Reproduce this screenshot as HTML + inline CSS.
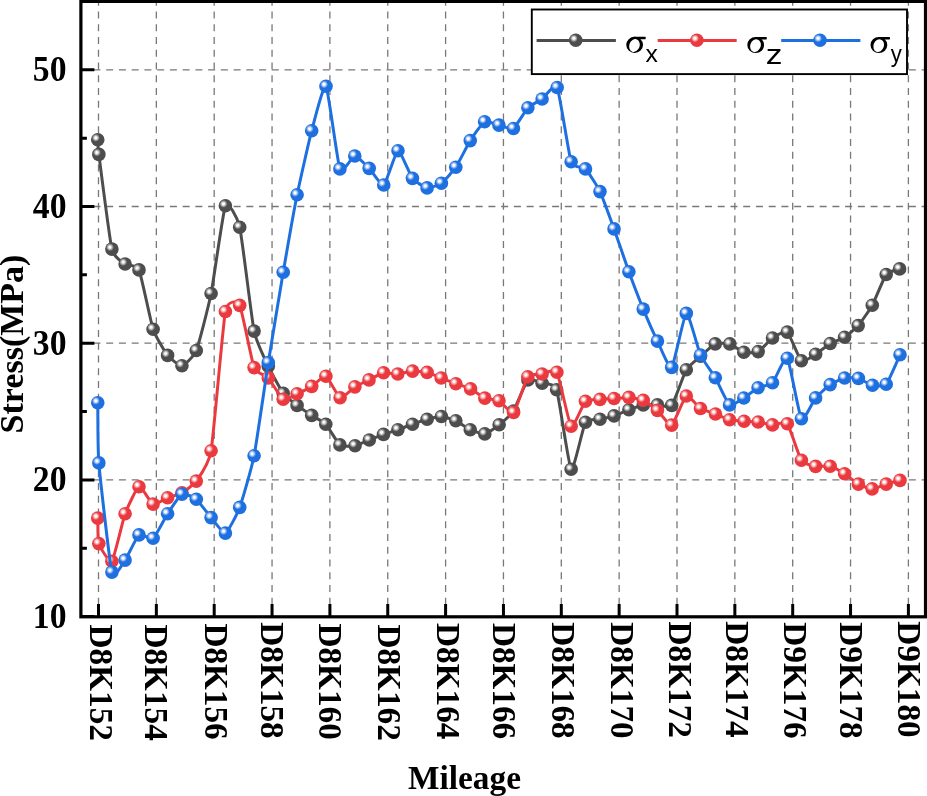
<!DOCTYPE html>
<html><head><meta charset="utf-8"><style>
html,body{margin:0;padding:0;background:#fff;}
body{width:927px;height:796px;overflow:hidden;font-family:"Liberation Serif",serif;}
svg{display:block;will-change:transform;}
</style></head><body>
<svg width="927" height="796" viewBox="0 0 927 796">
<defs>
<radialGradient id="gk" cx="0.36" cy="0.36" r="0.62" fx="0.36" fy="0.36"><stop offset="0" stop-color="#fff"/><stop offset="0.12" stop-color="#fff" stop-opacity="0.93"/><stop offset="0.46" stop-color="#4d4d4d"/><stop offset="1" stop-color="#4d4d4d"/></radialGradient>
<radialGradient id="gr" cx="0.36" cy="0.36" r="0.62" fx="0.36" fy="0.36"><stop offset="0" stop-color="#fff"/><stop offset="0.12" stop-color="#fff" stop-opacity="0.93"/><stop offset="0.46" stop-color="#eb3a3f"/><stop offset="1" stop-color="#eb3a3f"/></radialGradient>
<radialGradient id="gb" cx="0.36" cy="0.36" r="0.62" fx="0.36" fy="0.36"><stop offset="0" stop-color="#fff"/><stop offset="0.12" stop-color="#fff" stop-opacity="0.93"/><stop offset="0.46" stop-color="#1e6fe0"/><stop offset="1" stop-color="#1e6fe0"/></radialGradient>
<clipPath id="pc"><rect x="80.9" y="1.4" width="844.6" height="615.4"/></clipPath>
</defs>
<rect width="927" height="796" fill="#fff"/>
<path d="M98.50 1.40 V615.30 M156.35 1.40 V615.30 M214.20 1.40 V615.30 M272.05 1.40 V615.30 M329.90 1.40 V615.30 M387.75 1.40 V615.30 M445.60 1.40 V615.30 M503.45 1.40 V615.30 M561.30 1.40 V615.30 M619.15 1.40 V615.30 M677.00 1.40 V615.30 M734.85 1.40 V615.30 M792.70 1.40 V615.30 M850.55 1.40 V615.30 M908.40 1.40 V615.30" stroke="#787878" stroke-width="1.3" stroke-dasharray="7 5.74" stroke-dashoffset="2.54" fill="none"/>
<path d="M80.90 479.90 H925.50 M80.90 343.20 H925.50 M80.90 206.50 H925.50 M80.90 69.80 H925.50" stroke="#787878" stroke-width="1.3" stroke-dasharray="7 5.74" stroke-dashoffset="0.18" fill="none"/>
<g clip-path="url(#pc)">
<path d="M97.75 139.70 C97.93 142.15 97.67 145.28 98.85 154.40 C100.03 163.52 109.71 239.97 111.90 249.10 C114.09 258.23 122.84 262.27 125.10 264.00 C127.36 265.73 136.67 264.47 139.00 269.90 C141.33 275.33 150.72 322.07 153.10 329.20 C155.48 336.32 165.20 352.36 167.60 355.40 C170.00 358.44 179.56 366.11 181.95 365.70 C184.34 365.29 193.87 356.52 196.30 350.50 C198.73 344.48 208.67 305.56 211.10 293.50 C213.53 281.44 223.02 211.33 225.40 205.80 C227.78 200.28 237.31 216.76 239.70 227.20 C242.09 237.64 251.72 319.51 254.10 331.10 C256.48 342.69 265.88 361.12 268.30 366.30 C270.73 371.48 280.80 390.04 283.20 393.30 C285.60 396.56 294.73 403.56 297.10 405.40 C299.48 407.24 309.31 413.83 311.70 415.40 C314.09 416.97 323.45 421.74 325.80 424.20 C328.15 426.66 337.46 443.10 339.90 444.90 C342.34 446.70 352.60 446.21 355.05 445.80 C357.50 445.39 366.93 440.95 369.30 440.00 C371.67 439.05 381.12 435.26 383.50 434.40 C385.88 433.54 395.48 430.55 397.90 429.70 C400.32 428.85 410.07 425.07 412.50 424.20 C414.93 423.33 424.69 419.94 427.10 419.30 C429.51 418.66 439.01 416.38 441.40 416.50 C443.79 416.62 453.40 419.60 455.80 420.70 C458.20 421.80 467.83 428.60 470.25 429.70 C472.67 430.80 482.39 434.31 484.80 433.90 C487.21 433.49 496.77 426.71 499.15 424.80 C501.53 422.89 511.00 414.73 513.40 411.00 C515.80 407.27 525.51 382.31 527.90 380.00 C530.29 377.69 539.71 382.49 542.10 383.30 C544.49 384.11 554.18 382.53 556.60 389.70 C559.02 396.87 568.75 466.58 571.15 469.30 C573.55 472.02 583.05 426.47 585.45 422.30 C587.85 418.13 597.62 419.83 600.00 419.30 C602.38 418.77 611.64 416.69 614.05 415.90 C616.46 415.11 626.47 410.72 628.90 409.80 C631.33 408.88 640.87 405.31 643.25 404.90 C645.63 404.49 655.08 404.86 657.45 404.90 C659.82 404.94 669.30 408.33 671.70 405.40 C674.10 402.48 683.90 373.89 686.30 369.80 C688.70 365.71 698.09 358.46 700.50 356.30 C702.91 354.14 712.76 344.93 715.20 343.90 C717.64 342.87 727.42 343.20 729.80 343.90 C732.18 344.60 741.43 351.66 743.80 352.30 C746.17 352.94 755.81 352.79 758.20 351.60 C760.59 350.41 770.08 339.62 772.50 338.00 C774.92 336.38 784.89 330.20 787.30 332.10 C789.71 334.00 799.04 358.95 801.40 360.80 C803.76 362.65 813.20 355.74 815.60 354.30 C818.00 352.86 827.78 344.93 830.20 343.50 C832.62 342.07 842.27 338.69 844.60 337.20 C846.93 335.71 855.89 328.27 858.20 325.60 C860.51 322.93 869.97 309.46 872.30 305.20 C874.63 300.94 883.93 277.52 886.20 274.50 C888.48 271.48 897.37 269.83 899.60 268.90" stroke="#4d4d4d" stroke-width="3.0" fill="none" stroke-linejoin="round"/>
<circle cx="97.75" cy="139.70" r="6.8" fill="url(#gk)"/>
<circle cx="98.85" cy="154.40" r="6.8" fill="url(#gk)"/>
<circle cx="111.90" cy="249.10" r="6.8" fill="url(#gk)"/>
<circle cx="125.10" cy="264.00" r="6.8" fill="url(#gk)"/>
<circle cx="139.00" cy="269.90" r="6.8" fill="url(#gk)"/>
<circle cx="153.10" cy="329.20" r="6.8" fill="url(#gk)"/>
<circle cx="167.60" cy="355.40" r="6.8" fill="url(#gk)"/>
<circle cx="181.95" cy="365.70" r="6.8" fill="url(#gk)"/>
<circle cx="196.30" cy="350.50" r="6.8" fill="url(#gk)"/>
<circle cx="211.10" cy="293.50" r="6.8" fill="url(#gk)"/>
<circle cx="225.40" cy="205.80" r="6.8" fill="url(#gk)"/>
<circle cx="239.70" cy="227.20" r="6.8" fill="url(#gk)"/>
<circle cx="254.10" cy="331.10" r="6.8" fill="url(#gk)"/>
<circle cx="268.30" cy="366.30" r="6.8" fill="url(#gk)"/>
<circle cx="283.20" cy="393.30" r="6.8" fill="url(#gk)"/>
<circle cx="297.10" cy="405.40" r="6.8" fill="url(#gk)"/>
<circle cx="311.70" cy="415.40" r="6.8" fill="url(#gk)"/>
<circle cx="325.80" cy="424.20" r="6.8" fill="url(#gk)"/>
<circle cx="339.90" cy="444.90" r="6.8" fill="url(#gk)"/>
<circle cx="355.05" cy="445.80" r="6.8" fill="url(#gk)"/>
<circle cx="369.30" cy="440.00" r="6.8" fill="url(#gk)"/>
<circle cx="383.50" cy="434.40" r="6.8" fill="url(#gk)"/>
<circle cx="397.90" cy="429.70" r="6.8" fill="url(#gk)"/>
<circle cx="412.50" cy="424.20" r="6.8" fill="url(#gk)"/>
<circle cx="427.10" cy="419.30" r="6.8" fill="url(#gk)"/>
<circle cx="441.40" cy="416.50" r="6.8" fill="url(#gk)"/>
<circle cx="455.80" cy="420.70" r="6.8" fill="url(#gk)"/>
<circle cx="470.25" cy="429.70" r="6.8" fill="url(#gk)"/>
<circle cx="484.80" cy="433.90" r="6.8" fill="url(#gk)"/>
<circle cx="499.15" cy="424.80" r="6.8" fill="url(#gk)"/>
<circle cx="513.40" cy="411.00" r="6.8" fill="url(#gk)"/>
<circle cx="527.90" cy="380.00" r="6.8" fill="url(#gk)"/>
<circle cx="542.10" cy="383.30" r="6.8" fill="url(#gk)"/>
<circle cx="556.60" cy="389.70" r="6.8" fill="url(#gk)"/>
<circle cx="571.15" cy="469.30" r="6.8" fill="url(#gk)"/>
<circle cx="585.45" cy="422.30" r="6.8" fill="url(#gk)"/>
<circle cx="600.00" cy="419.30" r="6.8" fill="url(#gk)"/>
<circle cx="614.05" cy="415.90" r="6.8" fill="url(#gk)"/>
<circle cx="628.90" cy="409.80" r="6.8" fill="url(#gk)"/>
<circle cx="643.25" cy="404.90" r="6.8" fill="url(#gk)"/>
<circle cx="657.45" cy="404.90" r="6.8" fill="url(#gk)"/>
<circle cx="671.70" cy="405.40" r="6.8" fill="url(#gk)"/>
<circle cx="686.30" cy="369.80" r="6.8" fill="url(#gk)"/>
<circle cx="700.50" cy="356.30" r="6.8" fill="url(#gk)"/>
<circle cx="715.20" cy="343.90" r="6.8" fill="url(#gk)"/>
<circle cx="729.80" cy="343.90" r="6.8" fill="url(#gk)"/>
<circle cx="743.80" cy="352.30" r="6.8" fill="url(#gk)"/>
<circle cx="758.20" cy="351.60" r="6.8" fill="url(#gk)"/>
<circle cx="772.50" cy="338.00" r="6.8" fill="url(#gk)"/>
<circle cx="787.30" cy="332.10" r="6.8" fill="url(#gk)"/>
<circle cx="801.40" cy="360.80" r="6.8" fill="url(#gk)"/>
<circle cx="815.60" cy="354.30" r="6.8" fill="url(#gk)"/>
<circle cx="830.20" cy="343.50" r="6.8" fill="url(#gk)"/>
<circle cx="844.60" cy="337.20" r="6.8" fill="url(#gk)"/>
<circle cx="858.20" cy="325.60" r="6.8" fill="url(#gk)"/>
<circle cx="872.30" cy="305.20" r="6.8" fill="url(#gk)"/>
<circle cx="886.20" cy="274.50" r="6.8" fill="url(#gk)"/>
<circle cx="899.60" cy="268.90" r="6.8" fill="url(#gk)"/>
<path d="M97.75 518.10 C97.93 522.35 97.67 540.00 98.85 543.60 C100.03 547.20 109.71 563.78 111.90 561.30 C114.09 558.82 122.84 520.02 125.10 513.80 C127.36 507.58 136.67 487.51 139.00 486.70 C141.33 485.89 150.72 503.18 153.10 504.10 C155.48 505.03 165.20 498.74 167.60 497.80 C170.00 496.86 179.56 494.19 181.95 492.80 C184.34 491.41 193.87 484.60 196.30 481.10 C198.73 477.60 208.67 464.93 211.10 450.80 C213.53 436.67 223.02 323.62 225.40 311.50 C227.78 299.38 237.31 300.73 239.70 305.40 C242.09 310.08 251.72 361.56 254.10 367.60 C256.48 373.64 265.88 375.26 268.30 377.90 C270.73 380.54 280.80 397.98 283.20 399.30 C285.60 400.62 294.73 394.88 297.10 393.80 C299.48 392.73 309.30 387.87 311.70 386.40 C314.10 384.93 323.53 375.25 325.90 376.20 C328.27 377.15 337.68 396.91 340.10 397.80 C342.52 398.69 352.49 388.34 354.90 386.85 C357.31 385.36 366.61 381.07 369.00 379.90 C371.39 378.73 381.20 373.29 383.60 372.80 C386.00 372.31 395.39 374.14 397.80 374.00 C400.21 373.86 410.11 371.23 412.55 371.10 C414.99 370.97 424.71 371.82 427.10 372.40 C429.49 372.97 438.80 377.06 441.20 378.00 C443.60 378.94 453.40 382.79 455.85 383.70 C458.30 384.61 468.19 387.70 470.60 388.90 C473.01 390.10 482.43 397.12 484.80 398.10 C487.17 399.08 496.60 399.50 499.00 400.70 C501.40 401.90 511.20 414.49 513.60 412.50 C516.00 410.51 525.42 380.01 527.80 376.80 C530.17 373.59 539.68 374.38 542.10 374.00 C544.52 373.62 554.48 367.85 556.90 372.20 C559.32 376.55 568.77 423.77 571.15 426.20 C573.53 428.62 583.05 403.53 585.45 401.30 C587.85 399.07 597.62 399.63 600.00 399.40 C602.38 399.17 611.64 398.67 614.05 398.50 C616.46 398.33 626.47 397.25 628.90 397.40 C631.33 397.55 640.87 399.22 643.25 400.30 C645.63 401.38 655.08 408.33 657.45 410.40 C659.82 412.47 669.30 426.30 671.70 425.10 C674.10 423.90 683.90 397.38 686.30 396.00 C688.70 394.62 698.07 407.00 700.50 408.50 C702.93 410.00 713.08 413.06 715.50 414.00 C717.92 414.94 727.22 419.19 729.60 419.80 C731.98 420.41 741.72 421.12 744.10 421.30 C746.48 421.48 755.83 421.70 758.20 422.00 C760.57 422.30 770.08 424.75 772.50 424.90 C774.92 425.05 784.89 420.85 787.30 423.80 C789.71 426.75 799.04 456.75 801.40 460.30 C803.76 463.85 813.20 465.90 815.60 466.40 C818.00 466.90 827.78 465.68 830.20 466.30 C832.62 466.92 842.25 472.32 844.60 473.80 C846.95 475.28 856.11 482.84 858.40 484.10 C860.69 485.36 869.78 488.90 872.10 488.90 C874.42 488.90 883.88 484.81 886.20 484.10 C888.53 483.39 897.70 481.02 900.00 480.40" stroke="#eb3a3f" stroke-width="3.0" fill="none" stroke-linejoin="round"/>
<circle cx="97.75" cy="518.10" r="6.8" fill="url(#gr)"/>
<circle cx="98.85" cy="543.60" r="6.8" fill="url(#gr)"/>
<circle cx="111.90" cy="561.30" r="6.8" fill="url(#gr)"/>
<circle cx="125.10" cy="513.80" r="6.8" fill="url(#gr)"/>
<circle cx="139.00" cy="486.70" r="6.8" fill="url(#gr)"/>
<circle cx="153.10" cy="504.10" r="6.8" fill="url(#gr)"/>
<circle cx="167.60" cy="497.80" r="6.8" fill="url(#gr)"/>
<circle cx="181.95" cy="492.80" r="6.8" fill="url(#gr)"/>
<circle cx="196.30" cy="481.10" r="6.8" fill="url(#gr)"/>
<circle cx="211.10" cy="450.80" r="6.8" fill="url(#gr)"/>
<circle cx="225.40" cy="311.50" r="6.8" fill="url(#gr)"/>
<circle cx="239.70" cy="305.40" r="6.8" fill="url(#gr)"/>
<circle cx="254.10" cy="367.60" r="6.8" fill="url(#gr)"/>
<circle cx="268.30" cy="377.90" r="6.8" fill="url(#gr)"/>
<circle cx="283.20" cy="399.30" r="6.8" fill="url(#gr)"/>
<circle cx="297.10" cy="393.80" r="6.8" fill="url(#gr)"/>
<circle cx="311.70" cy="386.40" r="6.8" fill="url(#gr)"/>
<circle cx="325.90" cy="376.20" r="6.8" fill="url(#gr)"/>
<circle cx="340.10" cy="397.80" r="6.8" fill="url(#gr)"/>
<circle cx="354.90" cy="386.85" r="6.8" fill="url(#gr)"/>
<circle cx="369.00" cy="379.90" r="6.8" fill="url(#gr)"/>
<circle cx="383.60" cy="372.80" r="6.8" fill="url(#gr)"/>
<circle cx="397.80" cy="374.00" r="6.8" fill="url(#gr)"/>
<circle cx="412.55" cy="371.10" r="6.8" fill="url(#gr)"/>
<circle cx="427.10" cy="372.40" r="6.8" fill="url(#gr)"/>
<circle cx="441.20" cy="378.00" r="6.8" fill="url(#gr)"/>
<circle cx="455.85" cy="383.70" r="6.8" fill="url(#gr)"/>
<circle cx="470.60" cy="388.90" r="6.8" fill="url(#gr)"/>
<circle cx="484.80" cy="398.10" r="6.8" fill="url(#gr)"/>
<circle cx="499.00" cy="400.70" r="6.8" fill="url(#gr)"/>
<circle cx="513.60" cy="412.50" r="6.8" fill="url(#gr)"/>
<circle cx="527.80" cy="376.80" r="6.8" fill="url(#gr)"/>
<circle cx="542.10" cy="374.00" r="6.8" fill="url(#gr)"/>
<circle cx="556.90" cy="372.20" r="6.8" fill="url(#gr)"/>
<circle cx="571.15" cy="426.20" r="6.8" fill="url(#gr)"/>
<circle cx="585.45" cy="401.30" r="6.8" fill="url(#gr)"/>
<circle cx="600.00" cy="399.40" r="6.8" fill="url(#gr)"/>
<circle cx="614.05" cy="398.50" r="6.8" fill="url(#gr)"/>
<circle cx="628.90" cy="397.40" r="6.8" fill="url(#gr)"/>
<circle cx="643.25" cy="400.30" r="6.8" fill="url(#gr)"/>
<circle cx="657.45" cy="410.40" r="6.8" fill="url(#gr)"/>
<circle cx="671.70" cy="425.10" r="6.8" fill="url(#gr)"/>
<circle cx="686.30" cy="396.00" r="6.8" fill="url(#gr)"/>
<circle cx="700.50" cy="408.50" r="6.8" fill="url(#gr)"/>
<circle cx="715.50" cy="414.00" r="6.8" fill="url(#gr)"/>
<circle cx="729.60" cy="419.80" r="6.8" fill="url(#gr)"/>
<circle cx="744.10" cy="421.30" r="6.8" fill="url(#gr)"/>
<circle cx="758.20" cy="422.00" r="6.8" fill="url(#gr)"/>
<circle cx="772.50" cy="424.90" r="6.8" fill="url(#gr)"/>
<circle cx="787.30" cy="423.80" r="6.8" fill="url(#gr)"/>
<circle cx="801.40" cy="460.30" r="6.8" fill="url(#gr)"/>
<circle cx="815.60" cy="466.40" r="6.8" fill="url(#gr)"/>
<circle cx="830.20" cy="466.30" r="6.8" fill="url(#gr)"/>
<circle cx="844.60" cy="473.80" r="6.8" fill="url(#gr)"/>
<circle cx="858.40" cy="484.10" r="6.8" fill="url(#gr)"/>
<circle cx="872.10" cy="488.90" r="6.8" fill="url(#gr)"/>
<circle cx="886.20" cy="484.10" r="6.8" fill="url(#gr)"/>
<circle cx="900.00" cy="480.40" r="6.8" fill="url(#gr)"/>
<path d="M97.75 402.70 C97.93 412.73 97.67 448.78 98.85 462.90 C100.03 477.02 109.71 564.00 111.90 572.10 C114.09 580.20 122.84 563.20 125.10 560.10 C127.36 557.00 136.67 536.72 139.00 534.90 C141.33 533.08 150.72 540.07 153.10 538.30 C155.48 536.53 165.20 517.38 167.60 513.70 C170.00 510.02 179.56 495.30 181.95 494.10 C184.34 492.90 193.87 497.34 196.30 499.30 C198.73 501.26 208.67 514.78 211.10 517.60 C213.53 520.42 223.02 533.95 225.40 533.10 C227.78 532.25 237.31 513.85 239.70 507.40 C242.09 500.95 251.72 467.77 254.10 455.70 C256.48 443.62 265.88 377.78 268.30 362.50 C270.73 347.22 280.80 286.28 283.20 272.30 C285.60 258.32 294.73 206.60 297.10 194.80 C299.48 183.00 309.29 139.74 311.70 130.70 C314.11 121.66 323.65 83.12 326.00 86.30 C328.35 89.48 337.50 163.09 339.90 168.90 C342.30 174.71 352.36 156.04 354.80 156.00 C357.24 155.96 366.79 165.99 369.20 168.40 C371.61 170.81 381.35 186.42 383.75 184.95 C386.15 183.47 395.61 151.25 398.00 150.70 C400.39 150.15 410.02 175.25 412.45 178.35 C414.88 181.45 424.69 187.50 427.10 187.90 C429.51 188.30 439.01 184.93 441.40 183.20 C443.79 181.48 453.40 170.75 455.80 167.20 C458.20 163.65 467.85 144.39 470.25 140.60 C472.65 136.81 482.21 122.99 484.60 121.70 C486.99 120.41 496.55 124.53 498.95 125.10 C501.35 125.67 510.99 129.94 513.40 128.50 C515.81 127.06 525.51 110.26 527.90 107.80 C530.29 105.34 539.66 100.69 542.10 99.00 C544.54 97.31 554.78 82.32 557.20 87.55 C559.62 92.78 568.80 154.92 571.15 161.70 C573.50 168.48 583.05 166.41 585.45 168.90 C587.85 171.39 597.62 186.60 600.00 191.60 C602.38 196.60 611.64 222.22 614.05 228.90 C616.46 235.58 626.47 265.12 628.90 271.80 C631.33 278.48 640.87 303.33 643.25 309.10 C645.63 314.88 655.08 336.24 657.45 341.10 C659.82 345.96 669.30 369.71 671.70 367.40 C674.10 365.09 683.90 314.43 686.30 313.40 C688.70 312.37 698.08 349.63 700.50 355.00 C702.92 360.37 712.93 373.64 715.35 377.80 C717.77 381.96 727.18 403.22 729.55 404.90 C731.92 406.58 741.42 399.43 743.80 398.00 C746.17 396.57 755.66 389.07 758.05 387.80 C760.44 386.53 770.06 385.27 772.50 382.80 C774.94 380.33 784.89 355.20 787.30 358.20 C789.71 361.20 799.04 415.49 801.40 418.80 C803.76 422.11 813.20 400.75 815.60 397.90 C818.00 395.05 827.78 386.26 830.20 384.60 C832.62 382.94 842.25 378.52 844.60 378.00 C846.95 377.48 856.07 377.79 858.40 378.40 C860.73 379.01 870.18 384.81 872.50 385.30 C874.82 385.79 883.91 386.84 886.20 384.30 C888.49 381.76 897.70 359.72 900.00 354.80" stroke="#1e6fe0" stroke-width="3.0" fill="none" stroke-linejoin="round"/>
<circle cx="97.75" cy="402.70" r="6.8" fill="url(#gb)"/>
<circle cx="98.85" cy="462.90" r="6.8" fill="url(#gb)"/>
<circle cx="111.90" cy="572.10" r="6.8" fill="url(#gb)"/>
<circle cx="125.10" cy="560.10" r="6.8" fill="url(#gb)"/>
<circle cx="139.00" cy="534.90" r="6.8" fill="url(#gb)"/>
<circle cx="153.10" cy="538.30" r="6.8" fill="url(#gb)"/>
<circle cx="167.60" cy="513.70" r="6.8" fill="url(#gb)"/>
<circle cx="181.95" cy="494.10" r="6.8" fill="url(#gb)"/>
<circle cx="196.30" cy="499.30" r="6.8" fill="url(#gb)"/>
<circle cx="211.10" cy="517.60" r="6.8" fill="url(#gb)"/>
<circle cx="225.40" cy="533.10" r="6.8" fill="url(#gb)"/>
<circle cx="239.70" cy="507.40" r="6.8" fill="url(#gb)"/>
<circle cx="254.10" cy="455.70" r="6.8" fill="url(#gb)"/>
<circle cx="268.30" cy="362.50" r="6.8" fill="url(#gb)"/>
<circle cx="283.20" cy="272.30" r="6.8" fill="url(#gb)"/>
<circle cx="297.10" cy="194.80" r="6.8" fill="url(#gb)"/>
<circle cx="311.70" cy="130.70" r="6.8" fill="url(#gb)"/>
<circle cx="326.00" cy="86.30" r="6.8" fill="url(#gb)"/>
<circle cx="339.90" cy="168.90" r="6.8" fill="url(#gb)"/>
<circle cx="354.80" cy="156.00" r="6.8" fill="url(#gb)"/>
<circle cx="369.20" cy="168.40" r="6.8" fill="url(#gb)"/>
<circle cx="383.75" cy="184.95" r="6.8" fill="url(#gb)"/>
<circle cx="398.00" cy="150.70" r="6.8" fill="url(#gb)"/>
<circle cx="412.45" cy="178.35" r="6.8" fill="url(#gb)"/>
<circle cx="427.10" cy="187.90" r="6.8" fill="url(#gb)"/>
<circle cx="441.40" cy="183.20" r="6.8" fill="url(#gb)"/>
<circle cx="455.80" cy="167.20" r="6.8" fill="url(#gb)"/>
<circle cx="470.25" cy="140.60" r="6.8" fill="url(#gb)"/>
<circle cx="484.60" cy="121.70" r="6.8" fill="url(#gb)"/>
<circle cx="498.95" cy="125.10" r="6.8" fill="url(#gb)"/>
<circle cx="513.40" cy="128.50" r="6.8" fill="url(#gb)"/>
<circle cx="527.90" cy="107.80" r="6.8" fill="url(#gb)"/>
<circle cx="542.10" cy="99.00" r="6.8" fill="url(#gb)"/>
<circle cx="557.20" cy="87.55" r="6.8" fill="url(#gb)"/>
<circle cx="571.15" cy="161.70" r="6.8" fill="url(#gb)"/>
<circle cx="585.45" cy="168.90" r="6.8" fill="url(#gb)"/>
<circle cx="600.00" cy="191.60" r="6.8" fill="url(#gb)"/>
<circle cx="614.05" cy="228.90" r="6.8" fill="url(#gb)"/>
<circle cx="628.90" cy="271.80" r="6.8" fill="url(#gb)"/>
<circle cx="643.25" cy="309.10" r="6.8" fill="url(#gb)"/>
<circle cx="657.45" cy="341.10" r="6.8" fill="url(#gb)"/>
<circle cx="671.70" cy="367.40" r="6.8" fill="url(#gb)"/>
<circle cx="686.30" cy="313.40" r="6.8" fill="url(#gb)"/>
<circle cx="700.50" cy="355.00" r="6.8" fill="url(#gb)"/>
<circle cx="715.35" cy="377.80" r="6.8" fill="url(#gb)"/>
<circle cx="729.55" cy="404.90" r="6.8" fill="url(#gb)"/>
<circle cx="743.80" cy="398.00" r="6.8" fill="url(#gb)"/>
<circle cx="758.05" cy="387.80" r="6.8" fill="url(#gb)"/>
<circle cx="772.50" cy="382.80" r="6.8" fill="url(#gb)"/>
<circle cx="787.30" cy="358.20" r="6.8" fill="url(#gb)"/>
<circle cx="801.40" cy="418.80" r="6.8" fill="url(#gb)"/>
<circle cx="815.60" cy="397.90" r="6.8" fill="url(#gb)"/>
<circle cx="830.20" cy="384.60" r="6.8" fill="url(#gb)"/>
<circle cx="844.60" cy="378.00" r="6.8" fill="url(#gb)"/>
<circle cx="858.40" cy="378.40" r="6.8" fill="url(#gb)"/>
<circle cx="872.50" cy="385.30" r="6.8" fill="url(#gb)"/>
<circle cx="886.20" cy="384.30" r="6.8" fill="url(#gb)"/>
<circle cx="900.00" cy="354.80" r="6.8" fill="url(#gb)"/>
</g>
<rect x="80.90" y="1.40" width="844.60" height="615.40" fill="none" stroke="#000" stroke-width="3.2"/>
<path d="M98.50 616.80 V604.00 M156.35 616.80 V604.00 M214.20 616.80 V604.00 M272.05 616.80 V604.00 M329.90 616.80 V604.00 M387.75 616.80 V604.00 M445.60 616.80 V604.00 M503.45 616.80 V604.00 M561.30 616.80 V604.00 M619.15 616.80 V604.00 M677.00 616.80 V604.00 M734.85 616.80 V604.00 M792.70 616.80 V604.00 M850.55 616.80 V604.00 M908.40 616.80 V604.00 M80.90 616.60 H94.40 M80.90 548.25 H86.90 M80.90 479.90 H94.40 M80.90 411.55 H86.90 M80.90 343.20 H94.40 M80.90 274.85 H86.90 M80.90 206.50 H94.40 M80.90 138.15 H86.90 M80.90 69.80 H94.40" stroke="#000" stroke-width="3" fill="none"/>
<text transform="translate(66.5 628.00) scale(0.99 1.075)" font-family="Liberation Serif" font-weight="bold" font-size="34" text-anchor="end">10</text>
<text transform="translate(66.5 491.30) scale(0.99 1.075)" font-family="Liberation Serif" font-weight="bold" font-size="34" text-anchor="end">20</text>
<text transform="translate(66.5 354.60) scale(0.99 1.075)" font-family="Liberation Serif" font-weight="bold" font-size="34" text-anchor="end">30</text>
<text transform="translate(66.5 217.90) scale(0.99 1.075)" font-family="Liberation Serif" font-weight="bold" font-size="34" text-anchor="end">40</text>
<text transform="translate(66.5 81.20) scale(0.99 1.075)" font-family="Liberation Serif" font-weight="bold" font-size="34" text-anchor="end">50</text>
<text transform="translate(89.60 624.60) rotate(90) scale(0.978 1.0)" font-family="Liberation Serif" font-weight="bold" font-size="34">D8K152</text>
<text transform="translate(145.45 624.50) rotate(90) scale(0.978 1.0)" font-family="Liberation Serif" font-weight="bold" font-size="34">D8K154</text>
<text transform="translate(205.05 623.40) rotate(90) scale(0.978 1.0)" font-family="Liberation Serif" font-weight="bold" font-size="34">D8K156</text>
<text transform="translate(261.45 622.35) rotate(90) scale(0.978 1.0)" font-family="Liberation Serif" font-weight="bold" font-size="34">D8K158</text>
<text transform="translate(319.35 623.50) rotate(90) scale(0.978 1.0)" font-family="Liberation Serif" font-weight="bold" font-size="34">D8K160</text>
<text transform="translate(378.35 624.50) rotate(90) scale(0.978 1.0)" font-family="Liberation Serif" font-weight="bold" font-size="34">D8K162</text>
<text transform="translate(436.70 623.10) rotate(90) scale(0.978 1.0)" font-family="Liberation Serif" font-weight="bold" font-size="34">D8K164</text>
<text transform="translate(493.45 622.90) rotate(90) scale(0.978 1.0)" font-family="Liberation Serif" font-weight="bold" font-size="34">D8K166</text>
<text transform="translate(551.85 622.35) rotate(90) scale(0.978 1.0)" font-family="Liberation Serif" font-weight="bold" font-size="34">D8K168</text>
<text transform="translate(611.15 622.35) rotate(90) scale(0.978 1.0)" font-family="Liberation Serif" font-weight="bold" font-size="34">D8K170</text>
<text transform="translate(668.85 621.60) rotate(90) scale(0.978 1.0)" font-family="Liberation Serif" font-weight="bold" font-size="34">D8K172</text>
<text transform="translate(725.85 621.30) rotate(90) scale(0.978 1.0)" font-family="Liberation Serif" font-weight="bold" font-size="34">D8K174</text>
<text transform="translate(783.60 622.35) rotate(90) scale(0.978 1.0)" font-family="Liberation Serif" font-weight="bold" font-size="34">D9K176</text>
<text transform="translate(840.25 622.35) rotate(90) scale(0.978 1.0)" font-family="Liberation Serif" font-weight="bold" font-size="34">D9K178</text>
<text transform="translate(898.15 621.30) rotate(90) scale(0.978 1.0)" font-family="Liberation Serif" font-weight="bold" font-size="34">D9K180</text>
<text transform="translate(23.2 344) rotate(-90)" font-family="Liberation Serif" font-weight="bold" font-size="34" text-anchor="middle">Stress(MPa)</text>
<text transform="translate(464.5 788.5) scale(0.98 1)" font-family="Liberation Serif" font-weight="bold" font-size="34" text-anchor="middle">Mileage</text>
<rect x="531.8" y="9.5" width="375.2" height="64.6" fill="#fff" stroke="#000" stroke-width="1.9"/>
<path d="M536.6 40.5 H615.9" stroke="#4d4d4d" stroke-width="3.1"/>
<circle cx="575.75" cy="40.30" r="6.8" fill="url(#gk)"/>
<path d="M643.04 44.85 A8.40 8.05 0 1 0 626.24 44.85 A8.40 8.05 0 1 0 643.04 44.85 Z M639.31 47.27 A5.17 6.55 20.0 1 0 629.59 43.73 A5.17 6.55 20.0 1 0 639.31 47.27 Z" fill="#000" fill-rule="evenodd"/><path d="M633.44 36.80 H645.14 Q645.84 36.80 645.74 38.10 L645.44 39.30 H636.74 Z" fill="#000"/>
<path d="M657.7 40.5 H736.7" stroke="#eb3a3f" stroke-width="3.1"/>
<circle cx="696.90" cy="40.30" r="6.8" fill="url(#gr)"/>
<path d="M764.10 44.95 A8.40 8.05 0 1 0 747.30 44.95 A8.40 8.05 0 1 0 764.10 44.95 Z M760.37 47.37 A5.17 6.55 20.0 1 0 750.65 43.83 A5.17 6.55 20.0 1 0 760.37 47.37 Z" fill="#000" fill-rule="evenodd"/><path d="M754.50 36.90 H766.20 Q766.90 36.90 766.80 38.20 L766.50 39.40 H757.80 Z" fill="#000"/>
<path d="M781.2 40.5 H860.4" stroke="#1e6fe0" stroke-width="3.1"/>
<circle cx="820.00" cy="40.30" r="6.8" fill="url(#gb)"/>
<path d="M887.30 44.95 A8.40 8.05 0 1 0 870.50 44.95 A8.40 8.05 0 1 0 887.30 44.95 Z M883.57 47.37 A5.17 6.55 20.0 1 0 873.85 43.83 A5.17 6.55 20.0 1 0 883.57 47.37 Z" fill="#000" fill-rule="evenodd"/><path d="M877.70 36.90 H889.40 Q890.10 36.90 890.00 38.20 L889.70 39.40 H881.00 Z" fill="#000"/>
<text transform="translate(645.62 62.10) scale(0.996 1)" font-family="Liberation Sans" font-size="24.80">x</text>
<text transform="translate(765.74 64.00) scale(1.178 1)" font-family="Liberation Sans" font-size="28.39">z</text>
<text transform="translate(890.85 61.85) scale(0.912 1)" font-family="Liberation Sans" font-size="24.33">y</text>
</svg>
</body></html>
